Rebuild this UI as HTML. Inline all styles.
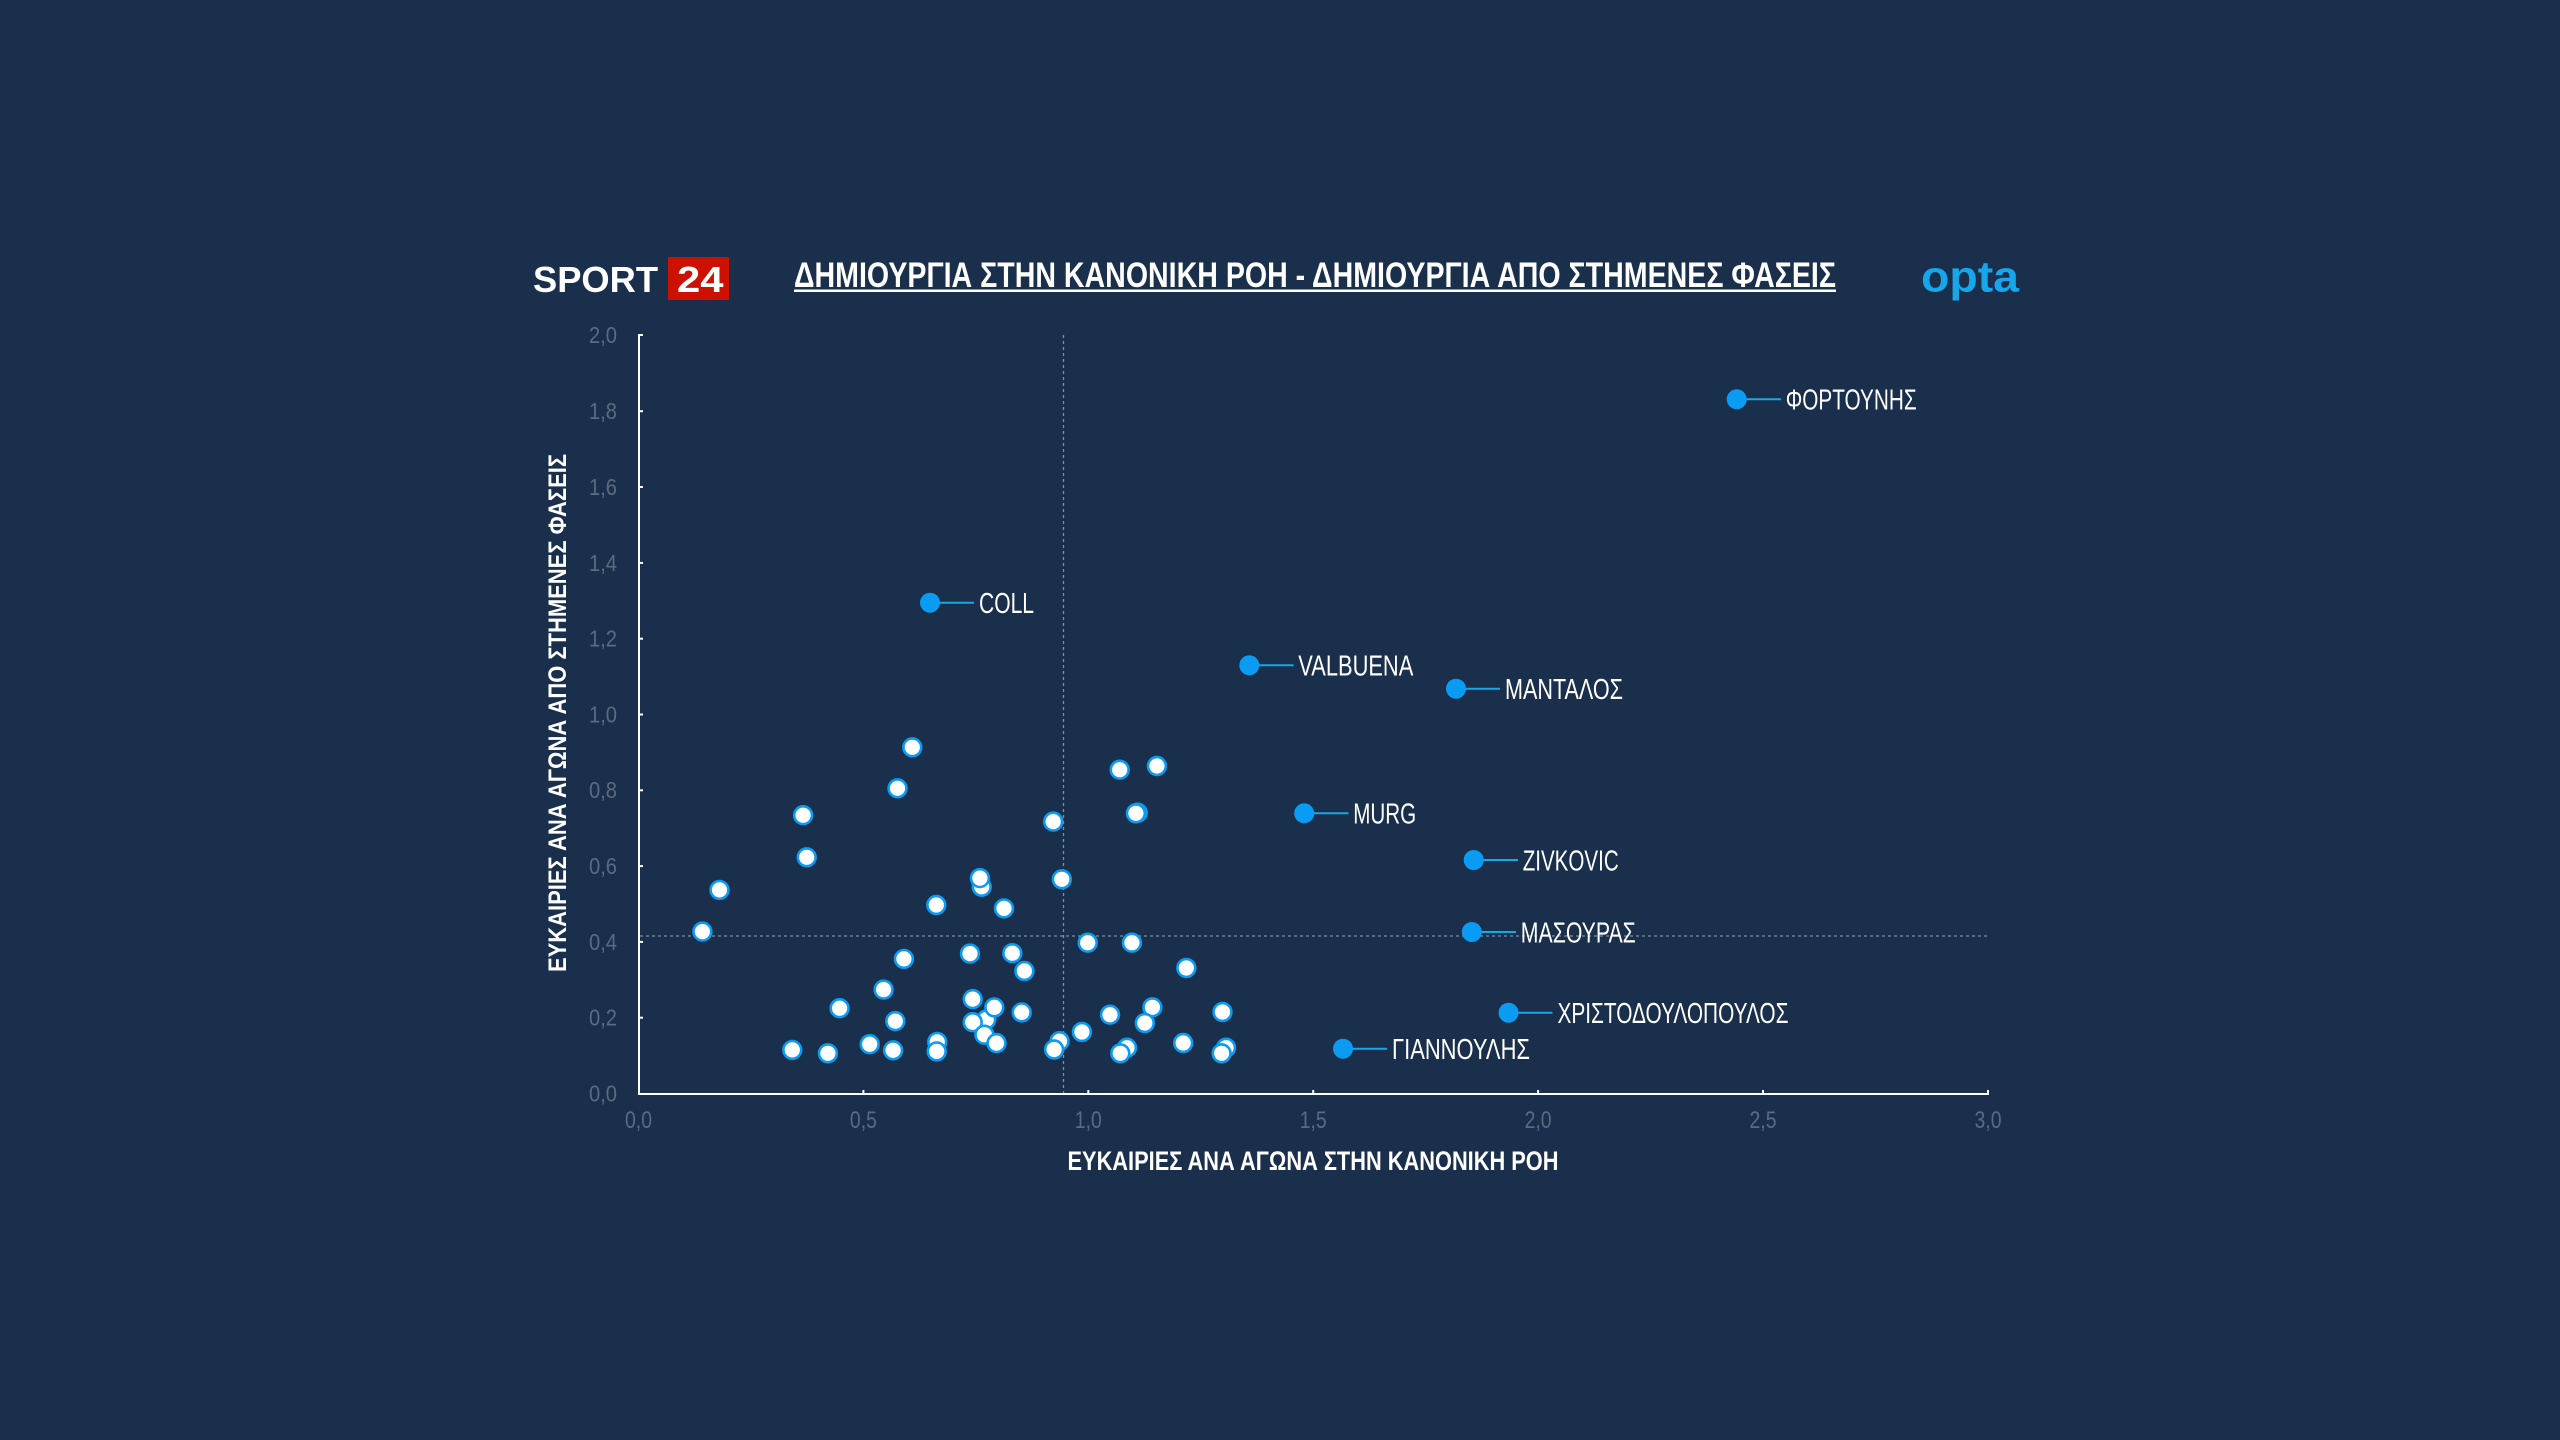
<!DOCTYPE html>
<html>
<head>
<meta charset="utf-8">
<style>
html,body{margin:0;padding:0;background:#1a2f4b;}
svg{display:block;}
text{font-family:"Liberation Sans",sans-serif;}
</style>
</head>
<body>
<svg width="2560" height="1440" viewBox="0 0 2560 1440" xmlns="http://www.w3.org/2000/svg">
<rect x="0" y="0" width="2560" height="1440" fill="#1a2f4b"/>

<!-- Header -->
<text x="533" y="292" font-size="36" font-weight="bold" fill="#ffffff" textLength="125" lengthAdjust="spacingAndGlyphs">SPORT</text>
<rect x="668" y="257" width="61" height="43" fill="#cc1100"/>
<text x="677" y="292" font-size="36" font-weight="bold" fill="#ffffff" textLength="46.5" lengthAdjust="spacingAndGlyphs">24</text>

<text x="794" y="287" font-size="35" font-weight="bold" fill="#ffffff" textLength="1042" lengthAdjust="spacingAndGlyphs">ΔΗΜΙΟΥΡΓΙΑ ΣΤΗΝ ΚΑΝΟΝΙΚΗ ΡΟΗ - ΔΗΜΙΟΥΡΓΙΑ ΑΠΟ ΣΤΗΜΕΝΕΣ ΦΑΣΕΙΣ</text>
<rect x="794" y="289.5" width="1042" height="2.5" fill="#ffffff"/>

<text x="1921" y="291.5" font-size="44" font-weight="bold" fill="#16a6ec" textLength="98" lengthAdjust="spacingAndGlyphs">opta</text>

<!-- Reference dotted lines -->
<line x1="1063.5" y1="335" x2="1063.5" y2="1093" stroke="#7f8ea3" stroke-width="1.3" stroke-dasharray="3 3"/>
<line x1="640" y1="936" x2="1988" y2="936" stroke="#7f8ea3" stroke-width="1.3" stroke-dasharray="3 3"/>

<!-- Axes -->
<line x1="639" y1="334" x2="639" y2="1094.5" stroke="#ffffff" stroke-width="2"/>
<line x1="638" y1="1094" x2="1989" y2="1094" stroke="#ffffff" stroke-width="2"/>

<!-- Y ticks -->
<g stroke="#ffffff" stroke-width="2">
<line x1="639" y1="335" x2="643" y2="335"/>
<line x1="639" y1="411.2" x2="643" y2="411.2"/>
<line x1="639" y1="487" x2="643" y2="487"/>
<line x1="639" y1="562.9" x2="643" y2="562.9"/>
<line x1="639" y1="638.7" x2="643" y2="638.7"/>
<line x1="639" y1="714.5" x2="643" y2="714.5"/>
<line x1="639" y1="790.3" x2="643" y2="790.3"/>
<line x1="639" y1="866.1" x2="643" y2="866.1"/>
<line x1="639" y1="941.9" x2="643" y2="941.9"/>
<line x1="639" y1="1017.7" x2="643" y2="1017.7"/>
</g>
<!-- X ticks -->
<g stroke="#ffffff" stroke-width="2">
<line x1="863.4" y1="1090" x2="863.4" y2="1094"/>
<line x1="1088.3" y1="1090" x2="1088.3" y2="1094"/>
<line x1="1313.2" y1="1090" x2="1313.2" y2="1094"/>
<line x1="1538.1" y1="1090" x2="1538.1" y2="1094"/>
<line x1="1763" y1="1090" x2="1763" y2="1094"/>
<line x1="1988" y1="1090" x2="1988" y2="1094"/>
</g>

<!-- Y tick labels -->
<g font-size="23" fill="#5b6b80" text-anchor="end">
<text x="617" y="343" textLength="28" lengthAdjust="spacingAndGlyphs">2,0</text>
<text x="617" y="419" textLength="28" lengthAdjust="spacingAndGlyphs">1,8</text>
<text x="617" y="495" textLength="28" lengthAdjust="spacingAndGlyphs">1,6</text>
<text x="617" y="571" textLength="28" lengthAdjust="spacingAndGlyphs">1,4</text>
<text x="617" y="646.5" textLength="28" lengthAdjust="spacingAndGlyphs">1,2</text>
<text x="617" y="722.5" textLength="28" lengthAdjust="spacingAndGlyphs">1,0</text>
<text x="617" y="798" textLength="28" lengthAdjust="spacingAndGlyphs">0,8</text>
<text x="617" y="874" textLength="28" lengthAdjust="spacingAndGlyphs">0,6</text>
<text x="617" y="950" textLength="28" lengthAdjust="spacingAndGlyphs">0,4</text>
<text x="617" y="1025.5" textLength="28" lengthAdjust="spacingAndGlyphs">0,2</text>
<text x="617" y="1101.5" textLength="28" lengthAdjust="spacingAndGlyphs">0,0</text>
</g>
<!-- X tick labels -->
<g font-size="24" fill="#5b6b80" text-anchor="middle">
<text x="638.5" y="1128" textLength="27" lengthAdjust="spacingAndGlyphs">0,0</text>
<text x="863.4" y="1128" textLength="27" lengthAdjust="spacingAndGlyphs">0,5</text>
<text x="1088.3" y="1128" textLength="27" lengthAdjust="spacingAndGlyphs">1,0</text>
<text x="1313.2" y="1128" textLength="27" lengthAdjust="spacingAndGlyphs">1,5</text>
<text x="1538.1" y="1128" textLength="27" lengthAdjust="spacingAndGlyphs">2,0</text>
<text x="1763" y="1128" textLength="27" lengthAdjust="spacingAndGlyphs">2,5</text>
<text x="1988" y="1128" textLength="27" lengthAdjust="spacingAndGlyphs">3,0</text>
</g>

<!-- Axis titles -->
<text x="1313" y="1170" font-size="27" font-weight="bold" fill="#ffffff" text-anchor="middle" textLength="491" lengthAdjust="spacingAndGlyphs">ΕΥΚΑΙΡΙΕΣ ΑΝΑ ΑΓΩΝΑ ΣΤΗΝ ΚΑΝΟΝΙΚΗ ΡΟΗ</text>
<text transform="translate(566,713) rotate(-90)" x="0" y="0" font-size="25" font-weight="bold" fill="#ffffff" text-anchor="middle" textLength="518" lengthAdjust="spacingAndGlyphs">ΕΥΚΑΙΡΙΕΣ ΑΝΑ ΑΓΩΝΑ ΑΠΟ ΣΤΗΜΕΝΕΣ ΦΑΣΕΙΣ</text>

<!-- White points -->
<g fill="#ffffff" stroke="#0a9cf2" stroke-width="2.6">
<circle cx="702.4" cy="931.6" r="8.9"/>
<circle cx="719.5" cy="889.9" r="8.9"/>
<circle cx="803.1" cy="815.2" r="8.9"/>
<circle cx="806.7" cy="857.3" r="8.9"/>
<circle cx="792.3" cy="1049.9" r="8.9"/>
<circle cx="827.9" cy="1053.3" r="8.9"/>
<circle cx="839.6" cy="1008.2" r="8.9"/>
<circle cx="869.7" cy="1044.2" r="8.9"/>
<circle cx="883.6" cy="989.6" r="8.9"/>
<circle cx="893.1" cy="1050.3" r="8.9"/>
<circle cx="895.3" cy="1021.1" r="8.9"/>
<circle cx="903.9" cy="958.9" r="8.9"/>
<circle cx="897.5" cy="788.3" r="8.9"/>
<circle cx="912.3" cy="747.3" r="8.9"/>
<circle cx="936.3" cy="905.0" r="8.9"/>
<circle cx="937.2" cy="1041.9" r="8.9"/>
<circle cx="936.7" cy="1051.4" r="8.9"/>
<circle cx="970.0" cy="953.6" r="8.9"/>
<circle cx="972.7" cy="999.1" r="8.9"/>
<circle cx="986.2" cy="1019.6" r="8.9"/>
<circle cx="972.7" cy="1022.2" r="8.9"/>
<circle cx="984.4" cy="1034.7" r="8.9"/>
<circle cx="981.7" cy="886.8" r="8.9"/>
<circle cx="979.9" cy="878.1" r="8.9"/>
<circle cx="994.3" cy="1007.4" r="8.9"/>
<circle cx="996.5" cy="1043.1" r="8.9"/>
<circle cx="1004.0" cy="908.4" r="8.9"/>
<circle cx="1012.3" cy="953.2" r="8.9"/>
<circle cx="1021.7" cy="1012.4" r="8.9"/>
<circle cx="1024.4" cy="971.0" r="8.9"/>
<circle cx="1053.2" cy="821.6" r="8.9"/>
<circle cx="1061.8" cy="879.3" r="8.9"/>
<circle cx="1059.5" cy="1041.2" r="8.9"/>
<circle cx="1054.1" cy="1049.5" r="8.9"/>
<circle cx="1081.9" cy="1032" r="8.9"/>
<circle cx="1087.7" cy="942.7" r="8.9"/>
<circle cx="1110" cy="1014.7" r="8.9"/>
<circle cx="1119.7" cy="769.7" r="8.9"/>
<circle cx="1156.9" cy="766" r="8.9"/>
<circle cx="1137.7" cy="812.7" r="8.9"/>
<circle cx="1135.9" cy="813.3" r="8.9"/>
<circle cx="1131.9" cy="942.7" r="8.9"/>
<circle cx="1127" cy="1047.7" r="8.9"/>
<circle cx="1120.3" cy="1053.3" r="8.9"/>
<circle cx="1152.4" cy="1007.3" r="8.9"/>
<circle cx="1144.8" cy="1023" r="8.9"/>
<circle cx="1186.3" cy="968" r="8.9"/>
<circle cx="1183.2" cy="1043" r="8.9"/>
<circle cx="1222.5" cy="1012" r="8.9"/>
<circle cx="1226" cy="1047.7" r="8.9"/>
<circle cx="1221.6" cy="1053.3" r="8.9"/>
</g>

<!-- Labeled points -->
<g stroke="#1ba6e6" stroke-width="2">
<line x1="1736.7" y1="399.3" x2="1781" y2="399.3"/>
<line x1="930" y1="602.7" x2="974" y2="602.7"/>
<line x1="1249.3" y1="665.3" x2="1293.5" y2="665.3"/>
<line x1="1456" y1="688.7" x2="1500" y2="688.7"/>
<line x1="1304.2" y1="813.3" x2="1348.5" y2="813.3"/>
<line x1="1473.7" y1="860" x2="1518" y2="860"/>
<line x1="1471.8" y1="932" x2="1516" y2="932"/>
<line x1="1508.5" y1="1012.7" x2="1552.5" y2="1012.7"/>
<line x1="1343" y1="1048.7" x2="1387" y2="1048.7"/>
</g>
<g fill="#0a9cf2">
<circle cx="1736.7" cy="399.3" r="10"/>
<circle cx="930" cy="602.7" r="10"/>
<circle cx="1249.3" cy="665.3" r="10"/>
<circle cx="1456" cy="688.7" r="10"/>
<circle cx="1304.2" cy="813.3" r="10"/>
<circle cx="1473.7" cy="860" r="10"/>
<circle cx="1471.8" cy="932" r="10"/>
<circle cx="1508.5" cy="1012.7" r="10"/>
<circle cx="1343" cy="1048.7" r="10"/>
</g>
<g font-size="29" fill="#ffffff">
<text x="1785.7" y="409.6" textLength="131" lengthAdjust="spacingAndGlyphs">ΦΟΡΤΟΥΝΗΣ</text>
<text x="979" y="613" textLength="55" lengthAdjust="spacingAndGlyphs">COLL</text>
<text x="1298.3" y="675.6" textLength="115" lengthAdjust="spacingAndGlyphs">VALBUENA</text>
<text x="1505" y="699" textLength="118" lengthAdjust="spacingAndGlyphs">ΜΑΝΤΑΛΟΣ</text>
<text x="1353.2" y="823.6" textLength="63" lengthAdjust="spacingAndGlyphs">MURG</text>
<text x="1522.7" y="870.3" textLength="96" lengthAdjust="spacingAndGlyphs">ZIVKOVIC</text>
<text x="1520.8" y="942.3" textLength="115" lengthAdjust="spacingAndGlyphs">ΜΑΣΟΥΡΑΣ</text>
<text x="1557.5" y="1023" textLength="231" lengthAdjust="spacingAndGlyphs">ΧΡΙΣΤΟΔΟΥΛΟΠΟΥΛΟΣ</text>
<text x="1392" y="1059" textLength="138" lengthAdjust="spacingAndGlyphs">ΓΙΑΝΝΟΥΛΗΣ</text>
</g>
</svg>
</body>
</html>
